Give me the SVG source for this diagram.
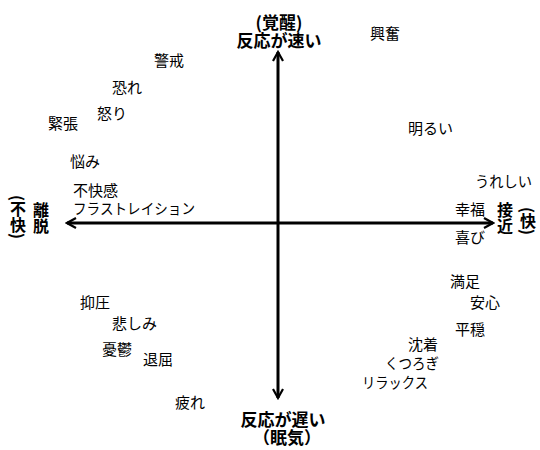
<svg xmlns="http://www.w3.org/2000/svg" width="540" height="450" viewBox="0 0 540 450">
<defs>
<style>
text{font-family:"Noto Sans CJK JP","Noto Sans CJK SC",sans-serif;fill:#000}
.w{font-size:15px}
.b{font-size:17px;font-weight:bold}
.v{font-size:16px;font-weight:bold;writing-mode:vertical-rl}
.c{text-anchor:middle}
.axis{stroke:#000;stroke-width:3;fill:none}
</style>
<marker id="ah" viewBox="0 0 12 12" refX="10" refY="6" markerWidth="12" markerHeight="12" markerUnits="userSpaceOnUse" orient="auto">
<path d="M1,1 L10,6 L1,11" fill="none" stroke="#000" stroke-width="2.2"/>
</marker>
</defs>
<rect width="540" height="450" fill="#fff"/>
<g id="connectors">
<line class="axis" x1="278" y1="223" x2="278" y2="52" marker-end="url(#ah)"/>
<line class="axis" x1="278" y1="223" x2="278" y2="398" marker-end="url(#ah)"/>
<line class="axis" x1="278" y1="223" x2="67" y2="223" marker-end="url(#ah)"/>
<line class="axis" x1="278" y1="223" x2="493" y2="223" marker-end="url(#ah)"/>
</g>
<g id="top-label">
<text class="b c"><tspan x="279" y="29">(覚醒)</tspan><tspan x="279" y="47">反応が速い</tspan></text>
</g>
<g id="bottom-label">
<text class="b c"><tspan x="283" y="426">反応が遅い</tspan><tspan x="287" y="444">（眠気）</tspan></text>
</g>
<g id="left-label">
<text class="v" x="18" y="195">(不快)</text>
<text class="v" x="41" y="202">離脱</text>
</g>
<g id="right-label">
<text class="v" x="505" y="202">接近</text>
<text class="v" x="528" y="207">(快)</text>
</g>
<g id="n-keikai"><text class="w" x="154" y="66">警戒</text></g>
<g id="n-osore"><text class="w" x="112" y="93">恐れ</text></g>
<g id="n-ikari"><text class="w" x="97" y="119">怒り</text></g>
<g id="n-kinchou"><text class="w" x="48" y="129">緊張</text></g>
<g id="n-nayami"><text class="w" x="70" y="167">悩み</text></g>
<g id="n-fukaikan"><text class="w" x="73" y="196">不快感</text></g>
<g id="n-frustration"><text class="w" x="73" y="214" textLength="122" lengthAdjust="spacingAndGlyphs">フラストレイション</text></g>
<g id="n-koufun"><text class="w" x="370" y="39">興奮</text></g>
<g id="n-akarui"><text class="w" x="408" y="134">明るい</text></g>
<g id="n-ureshii"><text class="w" x="475" y="187" textLength="57" lengthAdjust="spacingAndGlyphs">うれしい</text></g>
<g id="n-koufuku"><text class="w" x="455" y="215">幸福</text></g>
<g id="n-yorokobi"><text class="w" x="455" y="243">喜び</text></g>
<g id="n-manzoku"><text class="w" x="450" y="287">満足</text></g>
<g id="n-anshin"><text class="w" x="470" y="308">安心</text></g>
<g id="n-heion"><text class="w" x="455" y="335">平穏</text></g>
<g id="n-chinchaku"><text class="w" x="408" y="350">沈着</text></g>
<g id="n-kutsurogi"><text class="w" x="385" y="369" textLength="54" lengthAdjust="spacingAndGlyphs">くつろぎ</text></g>
<g id="n-relax"><text class="w" x="362" y="388" textLength="66" lengthAdjust="spacingAndGlyphs">リラックス</text></g>
<g id="n-yokuatsu"><text class="w" x="80" y="308">抑圧</text></g>
<g id="n-kanashimi"><text class="w" x="112" y="329">悲しみ</text></g>
<g id="n-yuuutsu"><text class="w" x="102" y="355">憂鬱</text></g>
<g id="n-taikutsu"><text class="w" x="143" y="365">退屈</text></g>
<g id="n-tsukare"><text class="w" x="175" y="408">疲れ</text></g>
</svg>
